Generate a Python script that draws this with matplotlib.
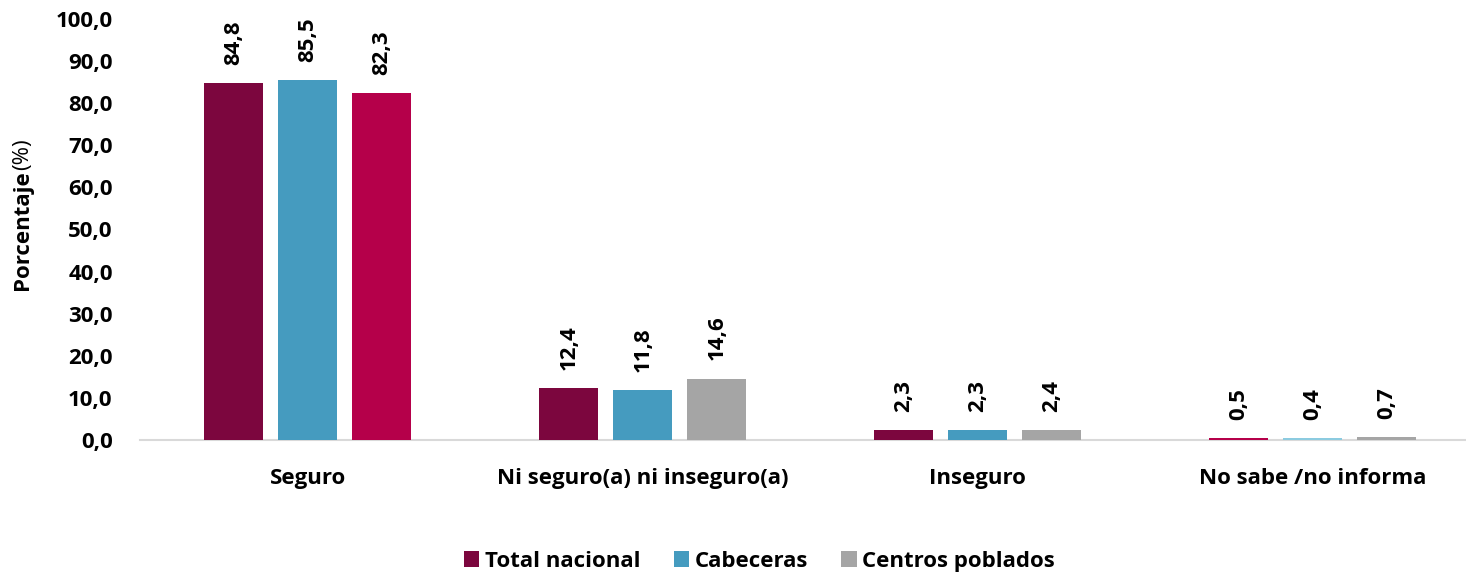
import matplotlib
matplotlib.use("Agg")
import matplotlib.pyplot as plt
from matplotlib.patches import Patch
import numpy as np

# ── data ──────────────────────────────────────────────
categories = ["Seguro", "Ni seguro(a) ni inseguro(a)", "Inseguro", "No sabe /no informa"]
series_names = ["Total nacional", "Cabeceras", "Centros poblados"]
total_nacional = [84.8, 12.4, 2.3, 0.5]
cabeceras = [85.5, 11.8, 2.3, 0.4]
centros_poblados = [82.3, 14.6, 2.4, 0.7]

# ── colours ──────────────────────────────────────────
WINE = "#7C063E"
BLUE = "#459BBF"
GREY = "#A5A5A5"
CRIMSON = "#B5004A"
LIGHT_BLUE = "#8CCBE0"
series_colors = [WINE, BLUE, GREY]
# a few bars in the source use off-palette colours
bar_colors = [
    [WINE, WINE, WINE, CRIMSON],
    [BLUE, BLUE, BLUE, LIGHT_BLUE],
    [CRIMSON, GREY, GREY, GREY],
]

plt.rcParams["font.family"] = ["Open Sans", "DejaVu Sans"]
FS = 16

fig = plt.figure(figsize=(14.66, 5.74), dpi=100)
ax = fig.add_axes([0.0958, 0.2334, 0.914, 0.7336])

x = np.arange(len(categories))
width = 0.176
pitch = 0.221
values = [total_nacional, cabeceras, centros_poblados]

for i, vals in enumerate(values):
    pos = x + (i - 1) * pitch
    ax.bar(pos, vals, width, color=bar_colors[i], zorder=3)
    for px, v in zip(pos, vals):
        ax.annotate(f"{v:.1f}".replace(".", ","), (px, v),
                    xytext=(0, 13), textcoords="offset points",
                    rotation=90, ha="center", va="bottom",
                    fontsize=FS, fontweight="bold", color="black")

ax.set_xlim(-0.5, 3.5)
ax.set_ylim(0, 100)
ax.set_yticks(np.arange(0, 101, 10))
ax.set_yticklabels([f"{t:.1f}".replace(".", ",") for t in np.arange(0, 101, 10)],
                   fontsize=FS, fontweight="bold")
ax.set_xticks(x)
ax.set_xticklabels(categories, fontsize=FS, fontweight="bold")
ax.tick_params(axis="both", length=0)
ax.tick_params(axis="y", pad=20)
ax.tick_params(axis="x", pad=20)

for s in ["top", "right", "left"]:
    ax.spines[s].set_visible(False)
ax.spines["bottom"].set_color("#D9D9D9")
ax.spines["bottom"].set_linewidth(1.5)

# y label: bold word + regular "(%)"
fig.text(0.0155, 0.704, "Porcentaje", rotation=90, ha="center", va="top",
         fontsize=FS, fontweight="bold")
fig.text(0.0155, 0.704, "(%)", rotation=90, ha="center", va="bottom",
         fontsize=FS)

handles = [Patch(facecolor=c, label=n) for c, n in zip(series_colors, series_names)]
fig.legend(handles=handles, loc="center", bbox_to_anchor=(0.518, 0.022),
           ncol=3, frameon=False, prop={"size": FS, "weight": "bold"},
           handlelength=0.7, handleheight=0.7, handletextpad=0.25,
           columnspacing=1.5)

fig.savefig("out.png", dpi=100)
